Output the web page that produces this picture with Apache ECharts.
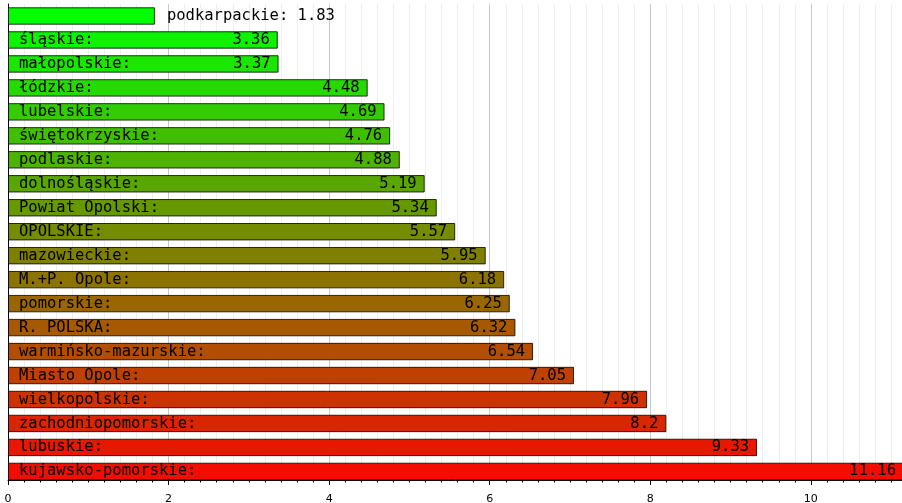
<!DOCTYPE html>
<html>
<head>
<meta charset="utf-8">
<script src="https://cdn.jsdelivr.net/npm/echarts@6/dist/echarts.min.js"></script>
<style>
  html, body { margin: 0; padding: 0; background: #fff; }
  #chart { width: 902px; height: 503px; }
</style>
</head>
<body>
<div id="chart"></div>
<script>
// regiony (od góry)
const regions = [
  "podkarpackie", "śląskie", "małopolskie", "łódzkie", "lubelskie",
  "świętokrzyskie", "podlaskie", "dolnośląskie", "Powiat Opolski", "OPOLSKIE",
  "mazowieckie", "M.+P. Opole", "pomorskie", "R. POLSKA", "warmińsko-mazurskie",
  "Miasto Opole", "wielkopolskie", "zachodniopomorskie", "lubuskie", "kujawsko-pomorskie"
];
const values = [
  1.83, 3.36, 3.37, 4.48, 4.69,
  4.76, 4.88, 5.19, 5.34, 5.57,
  5.95, 6.18, 6.25, 6.32, 6.54,
  7.05, 7.96, 8.2, 9.33, 11.16
];
const xTicks = [0, 2, 4, 6, 8, 10];

const FONT = "'DejaVu Sans Mono', monospace";
const CHAR_W = 9.35;   // szerokość znaku przy 15.5px
const PX_PER_UNIT = 80.3;

// kolor: zielony -> czerwony wg pozycji
const barColor = (i) => {
  const t = i / 20;
  const r = Math.round(255 * t);
  const g = Math.round(255 * (1 - t));
  return `rgb(${r},${g},0)`;
};

const fitsInside = (i) => {
  const txt = (regions[i].length + 1 + String(values[i]).length + 2) * CHAR_W + 24;
  return values[i] * PX_PER_UNIT > txt;
};

// seria z kolorem i nazwą
const nameData = values.map((v, i) => {
  const inside = fitsInside(i);
  return {
    value: v,
    itemStyle: { color: barColor(i) },
    label: inside
      ? { position: "insideLeft", distance: 11, formatter: "{b}:" }
      : { position: "right", distance: 12, formatter: "{b}: {c}" },
  };
});
// nakładka tylko z wartością
const valueData = values.map((v, i) => ({
  value: v,
  label: { show: fitsInside(i) },
}));

const chart = echarts.init(document.getElementById("chart"));

const options = {
  animation: false,
  grid: {
    left: 8,
    right: -2,
    top: 4,
    bottom: 19.6,
    containLabel: false,
    outerBoundsMode: "none",
  },
  xAxis: {
    type: "value",
    min: 0,
    max: "dataMax",
    interval: 2,
    offset: -3.4,
    axisLine: { show: true, lineStyle: { color: "#000", width: 1 } },
    axisTick: { show: true, length: 5, lineStyle: { color: "#000" } },
    minorTick: { show: true, splitNumber: 10, length: 2.5, lineStyle: { color: "#000" } },
    splitLine: { show: true, lineStyle: { color: "#c8c8c8" } },
    minorSplitLine: { show: true, lineStyle: { color: "#eeeeee" } },
    axisLabel: {
      color: "#000",
      fontFamily: "'DejaVu Sans', sans-serif",
      fontSize: 11,
      margin: 14,
      formatter: (v) => (xTicks.includes(v) ? String(v) : ""),
    },
  },
  yAxis: {
    type: "category",
    inverse: true,
    data: regions,
    axisLine: { show: true, lineStyle: { color: "#000" } },
    axisTick: { show: false },
    axisLabel: { show: false },
    splitLine: { show: false },
  },
  series: [
    {
      type: "bar",
      data: nameData,
      barWidth: 17.4,
      barGap: "-100%",
      itemStyle: { borderColor: "rgba(0,0,0,0.8)", borderWidth: 1 },
      label: {
        show: true,
        color: "#000",
        fontFamily: FONT,
        fontSize: 15.5,
      },
      z: 2,
    },
    {
      type: "bar",
      data: valueData,
      barWidth: 17.4,
      barGap: "-100%",
      itemStyle: { color: "rgba(0,0,0,0)" },
      label: {
        position: "insideRight",
        distance: 8,
        color: "#000",
        fontFamily: FONT,
        fontSize: 15.5,
        formatter: "{c}",
      },
      z: 3,
    },
  ],
};

chart.setOption(options);
window.addEventListener("resize", () => chart.resize());
</script>
</body>
</html>
